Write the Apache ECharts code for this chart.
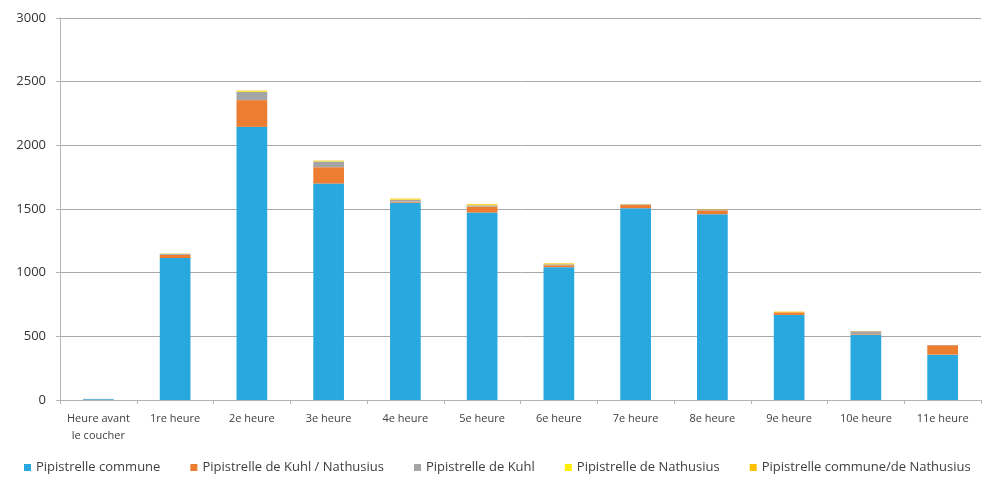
<!DOCTYPE html>
<html>
<head>
<meta charset="utf-8">
<script src="https://cdn.jsdelivr.net/npm/echarts@6/dist/echarts.min.js"></script>
<style>
  html, body { margin: 0; padding: 0; background: #fff; }
  #chart { width: 982px; height: 477px; }
</style>
</head>
<body>
<div id="chart"></div>
<script>
// Hourly bat contacts by species group
const categories = ['Heure avant\nle coucher', '1re heure', '2e heure', '3e heure', '4e heure', '5e heure',
  '6e heure', '7e heure', '8e heure', '9e heure', '10e heure', '11e heure'];
const pipCommune = [6, 1115, 2145, 1700, 1550, 1472, 1043, 1506, 1459, 668, 513, 356];
const pipKuhlNathusius = [0, 25, 210, 128, 8, 47, 15, 25, 30, 20, 5, 74];
const pipKuhl = [3, 8, 65, 45, 15, 10, 8, 5, 8, 0, 22, 2];
const pipNathusius = [0, 0, 5, 3, 4, 5, 4, 0, 0, 0, 0, 0];
const pipCommuneNathusius = [0, 2, 5, 4, 5, 6, 4, 2, 3, 6, 2, 0];
const yTicks = [0, 500, 1000, 1500, 2000, 2500, 3000];

const seriesDefs = [
  { name: 'Pipistrelle commune', data: pipCommune, color: '#29A8E0' },
  { name: 'Pipistrelle de Kuhl / Nathusius', data: pipKuhlNathusius, color: '#ED7D31' },
  { name: 'Pipistrelle de Kuhl', data: pipKuhl, color: '#A5A5A5' },
  { name: 'Pipistrelle de Nathusius', data: pipNathusius, color: '#FFEE00' },
  { name: 'Pipistrelle commune/de Nathusius', data: pipCommuneNathusius, color: '#FFC000' }
];

const font = "'Open Sans', 'Noto Sans', sans-serif";
const chart = echarts.init(document.getElementById('chart'), null, { renderer: 'canvas' });
chart.setOption({
  animation: false,
  textStyle: { fontFamily: font },
  grid: { left: 60, right: 1, top: 18, bottom: 77, containLabel: false },
  legend: {
    bottom: 3,
    left: 24,
    padding: 0,
    itemWidth: 7,
    itemHeight: 7,
    itemGap: 30,
    icon: 'rect',
    textStyle: { fontSize: 13, color: '#404040', fontFamily: font },
    data: seriesDefs.map(s => s.name)
  },
  xAxis: {
    type: 'category',
    data: categories,
    axisLine: { lineStyle: { color: '#b4b4b4', width: 1 } },
    axisTick: { show: true, length: 4, lineStyle: { color: '#b4b4b4' } },
    axisLabel: { color: '#404040', fontSize: 11, margin: 10, lineHeight: 17, interval: 0 }
  },
  yAxis: {
    type: 'value',
    min: yTicks[0],
    max: yTicks[yTicks.length - 1],
    interval: 500,
    axisLine: { show: true, lineStyle: { color: '#b4b4b4' } },
    axisTick: { show: true, length: 4, lineStyle: { color: '#b4b4b4' } },
    axisLabel: { color: '#333333', fontSize: 13, margin: 14, formatter: v => String(v) },
    splitLine: { lineStyle: { color: '#a8a8a8', width: 1 } }
  },
  series: seriesDefs.map(s => ({
    name: s.name,
    type: 'bar',
    stack: 'total',
    barWidth: '40%',
    data: s.data,
    itemStyle: { color: s.color }
  }))
});
</script>
</body>
</html>
